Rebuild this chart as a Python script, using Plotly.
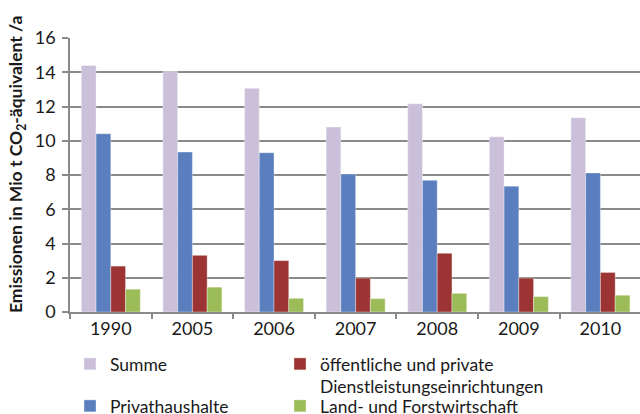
import plotly.graph_objects as go

# Emissions per year and sector (Mio t CO2-equivalent per year)
years = ["1990", "2005", "2006", "2007", "2008", "2009", "2010"]
summe = [14.4, 14.04, 13.06, 10.8, 12.16, 10.23, 11.35]
privathaushalte = [10.41, 9.34, 9.3, 8.06, 7.69, 7.35, 8.12]
dienstleistung = [2.68, 3.31, 3.0, 1.98, 3.43, 1.98, 2.31]
land_forst = [1.33, 1.45, 0.8, 0.78, 1.09, 0.9, 0.98]

# name, values, colour, legend slot
series = [
    ("Summe", summe, "#CBC0DA", "legend"),
    ("Privathaushalte", privathaushalte, "#5A7EBE", "legend3"),
    ("öffentliche und private<br>Dienstleistungseinrichtungen", dienstleistung, "#9B3432", "legend2"),
    ("Land- und Forstwirtschaft", land_forst, "#9CBB59", "legend4"),
]

FONT = "Lato, 'Open Sans', sans-serif"
GRID = "#8A8A8A"
TXT = "#1a1a1a"

fig = go.Figure()
for name, vals, color, leg in series:
    fig.add_trace(go.Bar(
        x=years, y=vals, name=name,
        marker=dict(color=color, line=dict(color="rgba(255,255,255,0.35)", width=1)),
        legend=leg,
    ))

legend_common = dict(
    orientation="v", xref="container", yref="container",
    xanchor="left", yanchor="top", valign="top",
    font=dict(family=FONT, size=17.5, color=TXT),
    itemclick=False, itemdoubleclick=False,
    bgcolor="rgba(0,0,0,0)",
)

# legend grid: two columns, two rows below the plot
col_x = [70, 280]
row_y = [346, 388]

fig.update_layout(
    width=640, height=414,
    margin=dict(l=70, r=0, t=38, b=102, autoexpand=False),
    paper_bgcolor="white", plot_bgcolor="white",
    barmode="group", bargap=0.277, bargroupgap=0,
    font=dict(family=FONT, size=17, color=TXT),
    showlegend=True,
    legend=dict(x=col_x[0] / 640, y=1 - row_y[0] / 414, **legend_common),
    legend2=dict(x=col_x[1] / 640, y=1 - row_y[0] / 414, **legend_common),
    legend3=dict(x=col_x[0] / 640, y=1 - row_y[1] / 414, **legend_common),
    legend4=dict(x=col_x[1] / 640, y=1 - row_y[1] / 414, **legend_common),
    xaxis=dict(
        type="category", range=[-0.5, 6.485], automargin=False,
        showline=True, linecolor=GRID, linewidth=1.5,
        ticks="outside", tickson="boundaries", ticklen=5, tickcolor=GRID, tickwidth=1.5,
        showgrid=False, tickfont=dict(size=18),
    ),
    yaxis=dict(
        range=[0, 16], dtick=2, tick0=0, automargin=False,
        showline=True, linecolor=GRID, linewidth=1.5,
        ticks="outside", ticklen=6, tickcolor=GRID, tickwidth=1.5,
        showgrid=True, gridcolor=GRID, gridwidth=1.5,
        zeroline=False, tickfont=dict(size=18), ticklabelstandoff=3,
    ),
    annotations=[dict(
        text="<b>Emissionen in Mio t CO<sub>2</sub>-äquivalent /a</b>",
        xref="paper", yref="paper", x=(17 - 70) / 570, y=(312 - 165) / 274,
        xanchor="center", yanchor="middle", textangle=-90, showarrow=False,
        font=dict(family=FONT, size=17.5, color=TXT),
    )],
)

fig.write_html("out.html")
